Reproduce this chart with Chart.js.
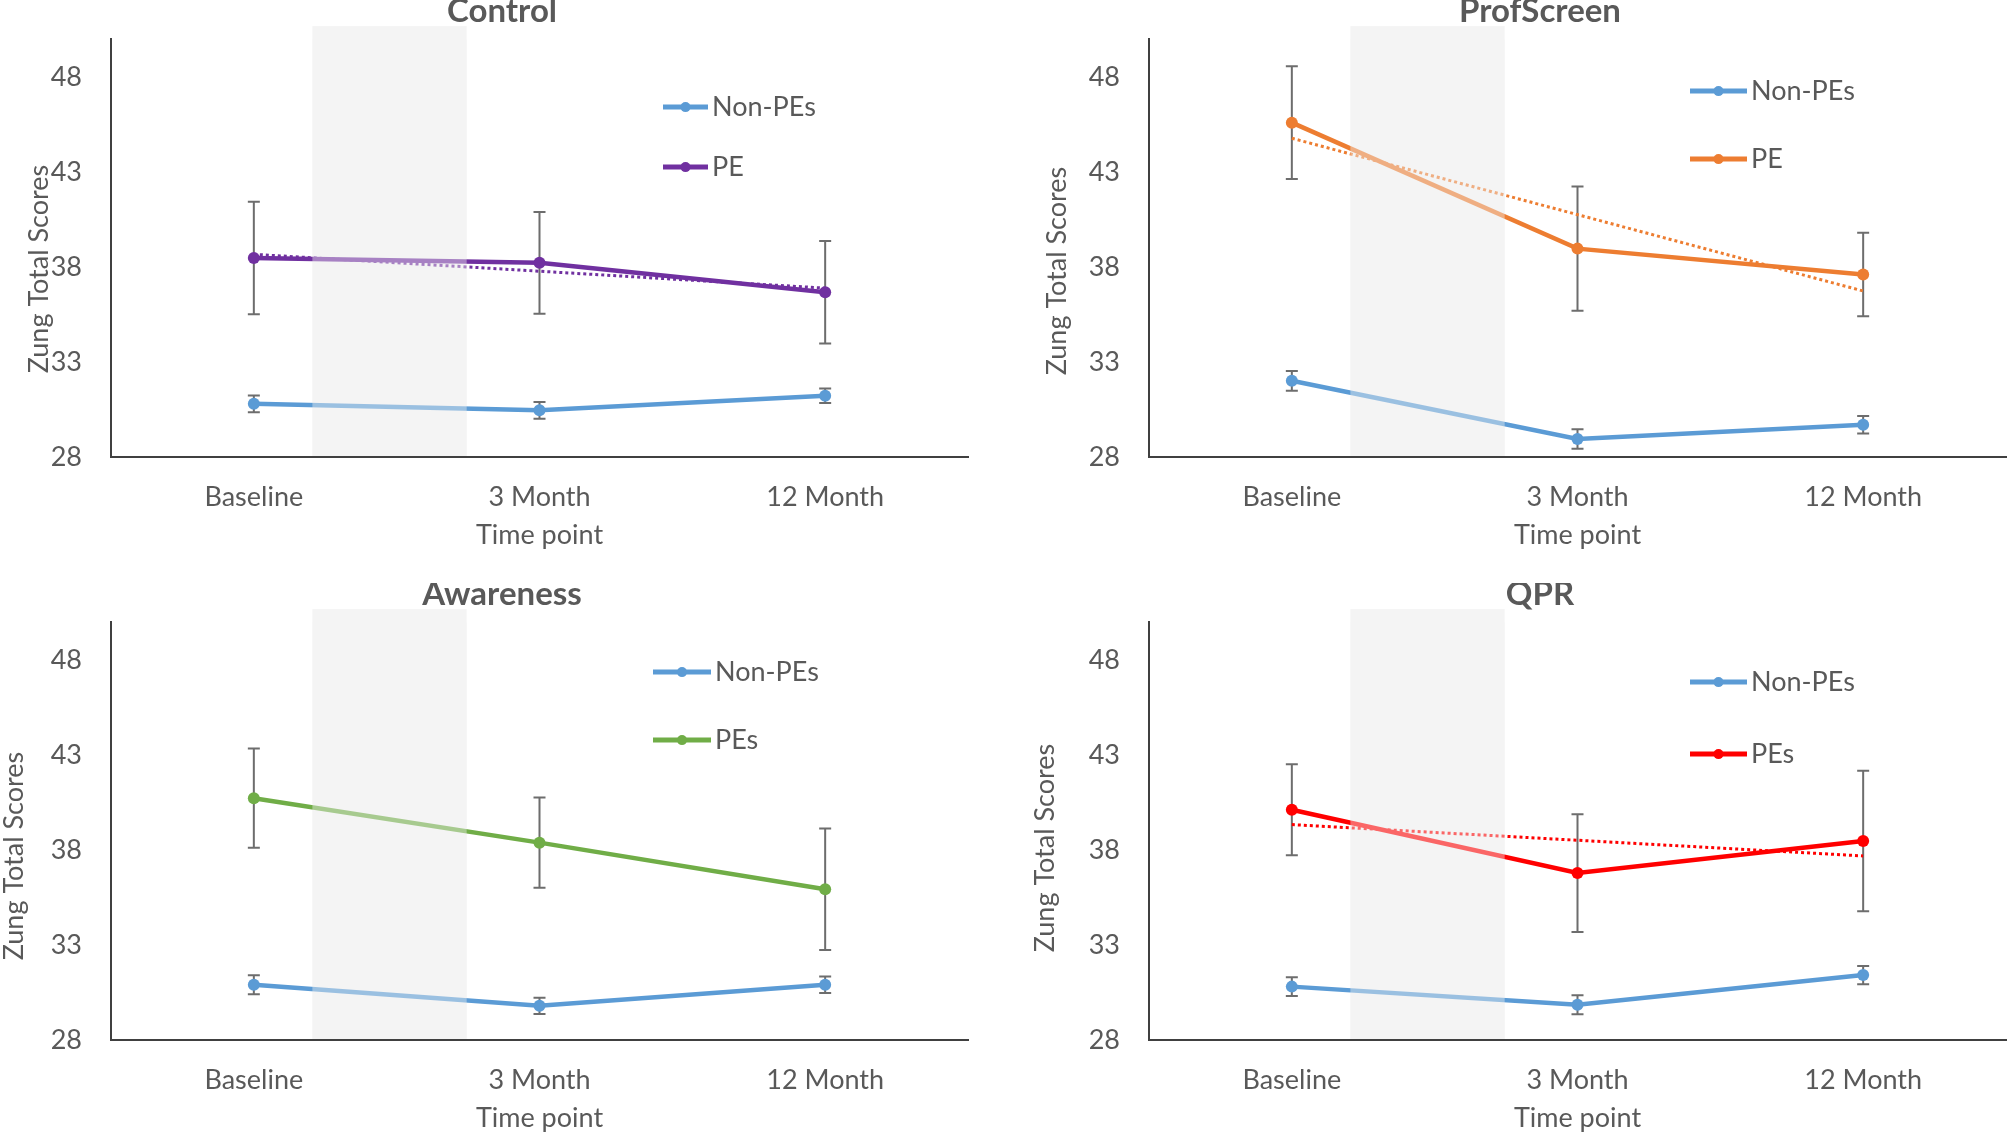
<!DOCTYPE html>
<html>
<head>
<meta charset="utf-8">
<script src="https://cdn.jsdelivr.net/npm/chart.js@4.4.0/dist/chart.umd.min.js"></script>
<style>
  html, body { margin: 0; padding: 0; background: #fff; width: 2008px; height: 1133px; overflow: hidden; }
  .panel { position: absolute; }
</style>
</head>
<body>
<div class="panel" style="left:0;top:0"><canvas id="control" width="1004" height="583"></canvas></div>
<div class="panel" style="left:1018px;top:0"><canvas id="profscreen" width="1000" height="583"></canvas></div>
<div class="panel" style="left:0;top:583px"><canvas id="awareness" width="1004" height="583"></canvas></div>
<div class="panel" style="left:1018px;top:583px"><canvas id="qpr" width="1000" height="583"></canvas></div>
<script>
// 共通の軸
const timePoints = ['Baseline', '3 Month', '12 Month'];
const yTicks = [28, 33, 38, 43, 48];
const yMin = 28;
const yMax = 50;
const bandRange = [0.205, 0.745]; // 灰色の帯（カテゴリ単位）

// Control
const controlNonPE = [30.8, 30.46, 31.22];
const controlNonPEErr = [0.44, 0.44, 0.38];
const controlPE = [38.48, 38.22, 36.67];
const controlPEErr = [2.96, 2.68, 2.7];
const controlPETrend = [38.67, null, 36.89];

// ProfScreen
const profNonPE = [32.01, 28.95, 29.7];
const profNonPEErr = [0.52, 0.51, 0.46];
const profPE = [45.6, 38.97, 37.61];
const profPEErr = [2.97, 3.27, 2.2];
const profPETrend = [44.78, null, 36.74];

// Awareness
const awareNonPE = [30.91, 29.8, 30.91];
const awareNonPEErr = [0.5, 0.43, 0.43];
const awarePE = [40.73, 38.39, 35.94];
const awarePEErr = [2.61, 2.38, 3.2];

// QPR
const qprNonPE = [30.81, 29.86, 31.42];
const qprNonPEErr = [0.5, 0.5, 0.48];
const qprPE = [40.12, 36.79, 38.48];
const qprPEErr = [2.4, 3.1, 3.7];
const qprPETrend = [39.34, null, 37.69];

const NONPE_COLOR = '#5B9BD5';
const TEXT = '#595959';
const FONT = 'Lato';

const panels = [
  { id: 'control', title: 'Control', peLabel: 'PE', color: '#7030A0',
    nonPE: controlNonPE, nonPEErr: controlNonPEErr, pe: controlPE, peErr: controlPEErr, trend: controlPETrend,
    pad: [36, 36], legend: { dx: 552, len: 45, rows: [68, 128] }, yTitle: { x: 39, dy: 21 } },
  { id: 'profscreen', title: 'ProfScreen', peLabel: 'PE', color: '#ED7D31',
    nonPE: profNonPE, nonPEErr: profNonPEErr, pe: profPE, peErr: profPEErr, trend: profPETrend,
    pad: [56, 12], legend: { dx: 541, len: 57, rows: [52, 120] }, yTitle: { x: 39, dy: 23 } },
  { id: 'awareness', title: 'Awareness', peLabel: 'PEs', color: '#70AD47',
    nonPE: awareNonPE, nonPEErr: awareNonPEErr, pe: awarePE, peErr: awarePEErr, trend: null,
    pad: [36, 36], legend: { dx: 542, len: 58, rows: [50, 118] }, yTitle: { x: 14, dy: 25 } },
  { id: 'qpr', title: 'QPR', peLabel: 'PEs', color: '#FF0000',
    nonPE: qprNonPE, nonPEErr: qprNonPEErr, pe: qprPE, peErr: qprPEErr, trend: qprPETrend,
    pad: [56, 12], legend: { dx: 541, len: 57, rows: [60, 132] }, yTitle: { x: 27, dy: 17 } },
];

// 帯・誤差棒・凡例・縦軸タイトル
const decorPlugin = {
  id: 'decor',
  beforeDatasetsDraw(chart, args, opts) {
    const { ctx, chartArea: a, scales: { x, y } } = chart;
    const x0 = x.getPixelForValue(bandRange[0]);
    const x1 = x.getPixelForValue(bandRange[1]);
    ctx.save();
    ctx.fillStyle = '#F4F4F4';
    ctx.fillRect(x0, a.top - 13, x1 - x0, a.bottom - a.top + 13);

    ctx.strokeStyle = '#6d6d6d';
    ctx.lineWidth = 2;
    opts.errors.forEach(({ mean, err }) => {
      mean.forEach((m, i) => {
        const px = x.getPixelForValue(i);
        const top = y.getPixelForValue(m + err[i]);
        const bot = y.getPixelForValue(m - err[i]);
        ctx.beginPath();
        ctx.moveTo(px, top); ctx.lineTo(px, bot);
        ctx.moveTo(px - 6, top); ctx.lineTo(px + 6, top);
        ctx.moveTo(px - 6, bot); ctx.lineTo(px + 6, bot);
        ctx.stroke();
      });
    });
    ctx.restore();
  },
  afterDatasetsDraw(chart) {
    // 帯の中の線を薄くする
    const { ctx, chartArea: a, scales: { x } } = chart;
    const x0 = x.getPixelForValue(bandRange[0]);
    const x1 = x.getPixelForValue(bandRange[1]);
    ctx.save();
    ctx.fillStyle = 'rgba(244,244,244,0.42)';
    ctx.fillRect(x0, a.top, x1 - x0, a.bottom - a.top);
    ctx.restore();
  },
  afterDraw(chart, args, opts) {
    const { ctx, chartArea: a } = chart;
    const lg = opts.legend;
    ctx.save();
    ctx.font = `27px ${FONT}`;
    ctx.textBaseline = 'middle';
    ctx.textAlign = 'left';
    opts.items.forEach((item, i) => {
      const lx = a.left + lg.dx;
      const ly = a.top + lg.rows[i];
      ctx.strokeStyle = item.color;
      ctx.lineWidth = 5;
      ctx.beginPath();
      ctx.moveTo(lx, ly); ctx.lineTo(lx + lg.len, ly);
      ctx.stroke();
      ctx.fillStyle = item.color;
      ctx.beginPath();
      ctx.arc(lx + lg.len / 2, ly, 5, 0, Math.PI * 2);
      ctx.fill();
      ctx.fillStyle = TEXT;
      ctx.fillText(item.label, lx + lg.len + 4, ly);
    });

    const yt = opts.yTitle;
    ctx.translate(yt.x, (a.top + a.bottom) / 2 + yt.dy);
    ctx.rotate(-Math.PI / 2);
    ctx.textAlign = 'center';
    ctx.fillText('Zung Total Scores', 0, 0);
    ctx.restore();
  },
};

panels.forEach((p) => {
  const datasets = [
    {
      label: 'Non-PEs',
      data: p.nonPE,
      borderColor: NONPE_COLOR,
      backgroundColor: NONPE_COLOR,
      borderWidth: 4.5,
      pointRadius: 6,
      pointBorderWidth: 0,
      tension: 0,
    },
    {
      label: p.peLabel,
      data: p.pe,
      borderColor: p.color,
      backgroundColor: p.color,
      borderWidth: 4.5,
      pointRadius: 6,
      pointBorderWidth: 0,
      tension: 0,
    },
  ];
  if (p.trend) {
    datasets.push({
      label: 'trend',
      data: p.trend,
      borderColor: p.color,
      borderWidth: 3,
      borderDash: [3, 3],
      pointRadius: 0,
      spanGaps: true,
    });
  }

  new Chart(document.getElementById(p.id).getContext('2d'), {
    type: 'line',
    data: { labels: timePoints, datasets },
    plugins: [decorPlugin],
    options: {
      responsive: false,
      animation: false,
      events: [],
      layout: { padding: { left: p.pad[0], right: p.pad[1], top: 0, bottom: 0 } },
      plugins: {
        legend: { display: false },
        tooltip: { enabled: false },
        title: {
          display: true,
          text: p.title,
          color: TEXT,
          font: { family: FONT, size: 33, weight: 'bold', lineHeight: 0.7 },
          padding: { top: 0, bottom: 16 },
        },
        decor: {
          errors: [
            { mean: p.nonPE, err: p.nonPEErr },
            { mean: p.pe, err: p.peErr },
          ],
          items: [
            { label: 'Non-PEs', color: NONPE_COLOR },
            { label: p.peLabel, color: p.color },
          ],
          legend: p.legend,
          yTitle: p.yTitle,
        },
      },
      scales: {
        x: {
          type: 'category',
          offset: true,
          grid: { display: false, drawTicks: false },
          border: { color: '#404040', width: 2, z: 1 },
          ticks: { color: TEXT, font: { family: FONT, size: 27 }, padding: 24, maxRotation: 0 },
          title: {
            display: true,
            text: 'Time point',
            color: TEXT,
            font: { family: FONT, size: 27 },
            padding: { top: 0, bottom: 32 },
          },
          afterFit: (scale) => { scale.height = 126; },
        },
        y: {
          min: yMin,
          max: yMax,
          grid: { display: false, drawTicks: false },
          border: { color: '#404040', width: 2, z: 1 },
          ticks: { color: TEXT, font: { family: FONT, size: 27 }, padding: 29 },
          afterBuildTicks: (scale) => { scale.ticks = yTicks.map((v) => ({ value: v })); },
          afterFit: (scale) => {
            scale.width = 75;
            scale.paddingTop = 0;
          },
        },
      },
    },
  });
});
</script>
</body>
</html>
